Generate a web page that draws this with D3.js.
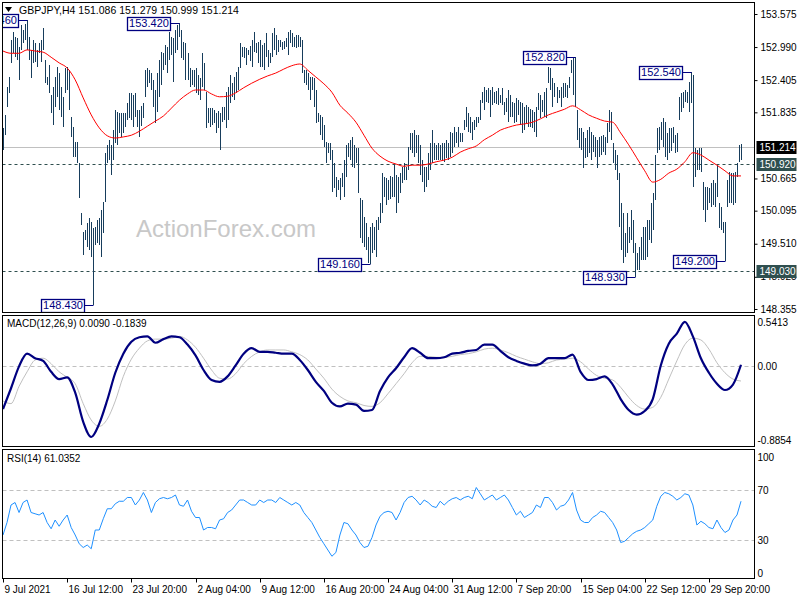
<!DOCTYPE html>
<html><head><meta charset="utf-8">
<script src="https://cdn.jsdelivr.net/npm/d3@7"></script>
<style>
body{margin:0;background:#fff}
svg{display:block}
text{font-family:"Liberation Sans",Arial,sans-serif;font-size:10px}
</style>
</head><body>
<svg id="c" width="800" height="600"></svg>
<script>
// ---- DATA ----
const symbolTitle = "GBPJPY,H4  151.086 151.279 150.999 151.214";
// H4 bars: [high, low]
const bars = [
[151.56,151.17],[151.79,151.43],[152.28,151.93],[152.46,152.18],[153.12,152.71],[153.26,152.88],[153.17,152.81],[153.15,152.76],[152.99,152.41],[153.38,152.94],
[153.29,153.06],[153.40,153.12],[153.46,152.94],[153.17,152.76],[152.94,152.44],[153.12,152.71],[153.06,152.73],[152.94,152.64],[153.06,152.88],[153.12,152.73],
[153.33,152.94],[152.76,152.35],[152.46,152.32],[152.67,152.18],[152.14,151.82],[152.28,151.61],[152.46,151.93],[152.64,152.11],[152.53,151.88],[152.28,151.75],
[152.11,151.57],[152.62,152.18],[152.64,152.23],[152.58,151.88],[151.75,151.40],[151.57,151.04],[151.31,151.04],[151.31,150.94],[150.94,150.32],[150.05,149.84],
[149.72,149.31],[149.75,149.58],[149.88,149.45],[149.96,149.40],[149.89,149.27],[149.79,148.43],[149.81,149.49],[149.93,149.52],[149.96,149.49],[150.11,149.27],
[150.25,149.70],[151.12,150.25],[151.26,150.94],[151.35,150.99],[151.26,150.73],[151.52,150.99],[151.88,151.29],[151.84,151.26],[151.82,151.47],[151.82,151.40],
[151.82,151.47],[151.82,151.57],[152.00,151.70],[152.18,151.73],[152.18,151.70],[152.14,151.57],[152.18,151.75],[151.88,151.57],[151.88,151.40],[151.95,151.60],
[152.00,151.73],[152.58,152.11],[152.62,152.28],[152.58,152.35],[152.53,152.23],[152.41,151.93],[152.23,151.65],[152.53,151.84],[152.76,152.11],[152.90,152.32],
[152.88,152.58],[153.03,152.67],[152.99,152.53],[153.26,152.76],[153.17,152.85],[153.15,152.37],[153.29,152.88],[153.38,152.94],[153.42,153.17],[153.29,152.80],
[153.08,152.76],[153.06,152.41],[152.88,152.41],[152.62,152.28],[152.58,152.32],[152.58,152.28],[152.62,152.18],[152.50,152.15],[152.44,152.05],[152.88,152.28],
[152.71,152.23],[152.19,151.56],[151.91,151.65],[151.91,151.57],[151.91,151.61],[151.88,151.65],[151.82,151.47],[151.85,151.55],[151.82,151.17],[151.93,151.66],
[151.93,151.70],[152.19,151.56],[152.28,151.70],[152.50,152.00],[152.35,152.11],[152.46,152.05],[152.55,152.18],[152.64,152.23],[153.06,152.62],[152.99,152.81],
[152.99,152.80],[152.97,152.67],[152.94,152.85],[153.00,152.75],[153.12,152.64],[153.26,152.90],[153.06,152.88],[153.08,152.71],[153.12,152.64],[153.03,152.64],
[153.06,152.58],[153.24,152.81],[152.94,152.64],[152.88,152.71],[153.24,152.81],[153.33,152.94],[153.20,152.85],[153.12,152.90],[153.12,152.99],[153.08,152.94],
[153.10,152.95],[153.15,152.99],[153.26,152.85],[153.29,153.06],[153.24,152.99],[153.17,152.99],[153.20,152.98],[153.20,152.99],[153.17,152.99],[153.12,152.53],
[152.58,152.35],[152.58,152.32],[152.53,152.23],[152.46,152.05],[152.46,152.23],[152.44,151.93],[152.23,151.65],[151.82,151.66],[151.79,151.43],[151.75,151.35],
[151.61,151.22],[151.31,150.94],[151.29,151.12],[151.29,150.99],[151.17,150.42],[150.94,150.50],[150.69,150.34],[150.64,150.46],[150.67,150.28],[150.76,150.51],
[150.99,150.34],[151.26,150.69],[151.29,151.04],[151.35,151.00],[151.40,150.87],[151.26,150.85],[151.20,150.94],[151.20,150.41],[150.32,149.61],[150.28,149.52],
[149.98,149.45],[149.88,149.40],[149.63,149.17],[149.81,149.16],[149.88,149.35],[149.81,149.40],[149.93,149.27],[149.98,149.75],[150.23,149.88],[150.76,150.05],
[150.69,150.34],[150.67,150.20],[150.64,150.28],[150.70,150.30],[150.69,150.34],[150.90,150.34],[150.73,150.05],[150.69,150.23],[150.76,150.41],[150.87,150.58],
[150.94,150.64],[150.87,150.64],[151.22,150.81],[151.47,151.17],[151.47,151.12],[151.52,151.04],[151.43,151.12],[151.43,150.94],[151.26,150.73],[150.99,150.60],
[150.87,150.42],[150.87,150.51],[151.12,150.64],[151.29,150.81],[151.52,150.94],[151.29,150.99],[151.26,150.99],[151.29,150.99],[151.26,150.99],[151.30,151.00],
[151.29,150.96],[151.35,151.03],[151.29,150.99],[151.49,151.04],[151.47,151.12],[151.57,151.22],[151.49,151.29],[151.57,151.22],[151.47,151.31],[151.47,151.31],
[151.70,151.52],[151.93,151.57],[151.82,151.49],[151.75,151.47],[151.66,151.35],[151.70,151.52],[151.75,151.57],[151.75,151.65],[152.05,151.70],[152.19,152.00],
[152.28,151.88],[152.23,152.02],[152.27,152.00],[152.23,151.75],[152.28,151.97],[152.19,152.00],[152.22,151.98],[152.27,151.97],[152.14,152.00],[152.27,151.97],
[152.02,151.79],[152.09,151.84],[152.23,151.66],[152.14,151.75],[152.02,151.75],[152.00,151.65],[152.09,151.66],[152.05,151.79],[152.02,151.61],[152.00,151.47],
[151.93,151.52],[151.97,151.65],[151.93,151.57],[151.90,151.58],[151.88,151.56],[151.84,151.49],[151.93,151.40],[152.18,151.88],[152.14,151.73],[152.05,151.84],
[152.19,151.75],[152.27,151.73],[152.64,152.35],[152.62,152.23],[152.44,151.93],[152.35,152.11],[152.28,152.00],[152.23,152.09],[152.28,151.93],[152.35,152.09],
[152.35,152.11],[152.32,152.09],[152.46,152.27],[152.76,152.53],[152.80,152.14],[152.82,151.93],[151.88,151.35],[151.56,151.20],[151.56,151.17],[151.49,150.85],
[151.38,151.03],[151.52,151.04],[151.57,151.12],[151.49,150.99],[151.43,151.13],[151.40,151.04],[151.35,150.85],[151.40,151.04],[151.42,151.08],[151.43,151.13],
[151.40,151.08],[151.65,151.29],[151.88,151.49],[151.84,151.35],[151.29,150.94],[151.17,150.81],[151.08,150.64],[150.76,149.81],[150.23,149.40],[150.05,149.17],
[149.70,149.27],[150.05,149.35],[149.81,149.52],[150.11,149.58],[149.93,149.35],[149.52,148.93],[149.35,149.04],[149.45,149.04],[149.63,149.22],[149.81,149.22],
[149.81,149.22],[149.93,149.27],[149.93,149.58],[150.23,149.52],[150.41,149.75],[151.08,150.28],[151.56,151.12],[151.57,151.17],[151.66,151.35],[151.73,151.22],
[151.66,151.04],[151.47,150.99],[151.56,151.12],[151.55,151.15],[151.57,151.29],[151.43,151.12],[151.47,151.13],[152.11,151.70],[152.18,151.84],[152.19,151.91],
[152.23,152.02],[152.19,152.00],[152.37,151.84],[152.54,152.00],[152.50,150.51],[151.20,150.69],[151.17,150.81],[151.20,150.81],[151.20,150.78],[150.60,150.11],
[150.51,149.89],[150.51,150.11],[150.50,150.23],[150.58,150.16],[150.64,150.20],[150.58,150.16],[150.90,150.34],[150.23,149.79],[150.16,149.75],[149.89,149.70],
[149.89,149.20],[150.64,150.16],[150.78,150.23],[150.76,150.23],[150.76,150.20],[150.78,150.23],[150.94,150.69],[151.26,150.96],[151.279,150.999]
];
// indicator samples: MA and MACD one every 4 bars, RSI one every 2 bars
const sampleStep = 4;
const rsiStep = 2;
const maValues = [
152.92,152.88,152.88,152.94,152.92,152.90,152.81,152.71,152.62,152.41,
152.09,151.79,151.56,151.42,151.38,151.40,151.43,151.50,151.59,151.68,
151.77,151.91,152.05,152.16,152.23,152.23,152.16,152.11,152.12,152.18,
152.27,152.35,152.42,152.48,152.53,152.60,152.66,152.69,152.58,152.46,
152.34,152.19,151.96,151.82,151.66,151.43,151.20,151.06,150.97,150.92,
150.88,150.90,150.90,150.92,150.96,150.99,151.04,151.13,151.19,151.24,
151.35,151.43,151.52,151.57,151.61,151.63,151.66,151.72,151.79,151.84,
151.89,151.95,151.88,151.79,151.73,151.68,151.66,151.47,151.26,151.03,
150.80,150.60,150.65,150.76,150.83,150.96,151.12,151.08,150.99,150.90,
150.80,150.71,150.71];
const macdMain = [
-0.518,-0.270,-0.010,0.141,0.087,0.055,-0.075,-0.161,-0.140,-0.323,
-0.669,-0.850,-0.691,-0.410,-0.086,0.141,0.282,0.336,0.347,0.271,
0.314,0.347,0.336,0.249,0.120,-0.053,-0.172,-0.194,-0.129,0.001,
0.141,0.206,0.163,0.163,0.152,0.141,0.141,0.066,-0.053,-0.194,
-0.302,-0.442,-0.486,-0.453,-0.464,-0.540,-0.529,-0.302,-0.140,-0.032,
0.098,0.206,0.152,0.087,0.087,0.098,0.141,0.152,0.174,0.185,
0.249,0.249,0.174,0.098,0.055,0.022,0.001,0.022,0.087,0.087,
0.087,0.130,-0.075,-0.172,-0.161,-0.129,-0.226,-0.399,-0.529,-0.583,
-0.540,-0.399,0.001,0.260,0.379,0.520,0.347,0.087,-0.086,-0.216,
-0.291,-0.226,0.009];
const macdSignal = [
-0.421,-0.453,-0.248,-0.075,0.066,0.087,0.022,-0.075,-0.140,-0.216,
-0.453,-0.648,-0.723,-0.637,-0.421,-0.129,0.076,0.206,0.293,0.314,
0.314,0.325,0.347,0.304,0.217,0.087,-0.053,-0.151,-0.161,-0.097,
0.022,0.109,0.163,0.185,0.185,0.185,0.163,0.130,0.066,-0.042,
-0.151,-0.280,-0.367,-0.421,-0.442,-0.475,-0.486,-0.442,-0.334,-0.216,
-0.097,0.033,0.109,0.109,0.098,0.098,0.109,0.130,0.141,0.163,
0.195,0.206,0.185,0.152,0.109,0.076,0.044,0.022,0.033,0.066,
0.076,0.087,0.044,-0.042,-0.118,-0.151,-0.172,-0.259,-0.378,-0.475,
-0.518,-0.496,-0.378,-0.161,0.055,0.249,0.325,0.304,0.195,0.033,
-0.086,-0.161,-0.184];
const rsiValues = [
34,44,58,60,52,60,62,52,51,50,
52,44,39,46,41,46,50,40,34,27,
24,26,23,38,38,47,55,55,59,61,
61,64,64,58,62,68,62,52,60,63,
64,63,64,66,58,57,62,53,48,48,
38,40,40,39,46,47,52,54,58,62,
62,60,58,58,62,60,62,62,60,64,
62,60,58,60,58,52,48,44,38,32,
27,22,17,20,34,44,43,38,34,28,
24,25,32,42,49,52,53,52,46,52,
60,64,65,62,58,62,60,57,56,61,
58,61,63,64,62,64,65,63,72,67,
62,64,66,62,64,66,62,56,50,53,
48,50,52,58,56,64,64,60,54,57,
58,62,68,54,46,44,44,48,50,53,
52,48,44,38,28,29,32,35,37,38,
40,43,46,57,65,68,67,65,62,64,
67,66,58,42,45,43,40,39,46,40,
36,38,46,50,61.0352];
const priceTicks = [153.575,152.990,152.405,151.835,150.665,150.095,149.510,148.925,148.355];
const lastClose = 151.214;
const levelLines = [150.920,149.030];
const peakHighs = [153.460,153.420,152.820,152.540];
const peakLows = [148.430,149.160,148.930,149.200];
const dateTickStep = 32;
const dateLabels = ["9 Jul 2021","16 Jul 12:00","23 Jul 20:00","2 Aug 04:00","9 Aug 12:00","16 Aug 20:00","24 Aug 04:00","31 Aug 12:00","7 Sep 20:00","15 Sep 04:00","22 Sep 12:00","29 Sep 20:00"];
const macdTitle = "MACD(12,26,9) 0.0090 -0.1839";
const macdAxis = [0.5413, 0, -0.8854];
const rsiTitle = "RSI(14) 61.0352";
const rsiLevels = [70,30];
const rsiAxis = [100,70,30,0];

// ---- LAYOUT ----
const L = 2.5, R = 754.5;
const P1 = {top:2.5, bottom:312.5};
const P2 = {top:315.5, bottom:446.5};
const P3 = {top:449.5, bottom:578.5};
const barColor = "#173d5c";
const FONT = "'Liberation Sans',Arial,sans-serif";

const svg = d3.select("#c");
const n = bars.length;
const x = d3.scaleLinear().domain([0, n-1]).range([3, 741]);
const px = i => Math.round(x(i)) + 0.5;
const yP = d3.scaleLinear().domain([148.355,153.575]).range([309,14]);
const yM = d3.scaleLinear().domain([-0.8854,0.5413]).range([440,320]);
const yR = d3.scaleLinear().domain([0,100]).range([577.5,452.5]);

const defs = svg.append("defs");
[["c1",P1],["c2",P2],["c3",P3]].forEach(([id,p])=>{
  defs.append("clipPath").attr("id",id).append("rect")
    .attr("x",L+0.5).attr("y",p.top+0.5).attr("width",R-L-1).attr("height",p.bottom-p.top-1);
});

// ---------- main price panel ----------
const g1 = svg.append("g").attr("clip-path","url(#c1)");
g1.append("text").attr("x",136).attr("y",237).attr("fill","#c8c8c8")
  .style("font-size","24px").text("ActionForex.com");

g1.append("line").attr("x1",L).attr("x2",R)
  .attr("y1",Math.round(yP(lastClose))+0.5).attr("y2",Math.round(yP(lastClose))+0.5)
  .attr("stroke","#c0c0c0").attr("stroke-width",1);
g1.selectAll("line.lvl").data(levelLines).join("line").attr("class","lvl")
  .attr("x1",L).attr("x2",R)
  .attr("y1",d=>Math.round(yP(d))+0.5).attr("y2",d=>Math.round(yP(d))+0.5)
  .attr("stroke","#2f4f4f").attr("stroke-dasharray","3,3");

g1.selectAll("line.bar").data(bars).join("line").attr("class","bar")
  .attr("x1",(d,i)=>px(i)).attr("x2",(d,i)=>px(i))
  .attr("y1",d=>Math.round(yP(d[0])))
  .attr("y2",d=>Math.max(Math.round(yP(d[1])),Math.round(yP(d[0]))+2))
  .attr("stroke",barColor).attr("stroke-width",1).attr("shape-rendering","crispEdges");

const maLine = d3.line().x((d,i)=>x(i*sampleStep)).y(d=>yP(d)).curve(d3.curveMonotoneX);
g1.append("path").attr("d",maLine(maValues)).attr("fill","none").attr("stroke","#ff0000").attr("stroke-width",1);

function findBar(v, k){ return bars.findIndex(b=>Math.abs(b[k]-v)<1e-6); }
const peaks = peakHighs.map(v=>({v,i:findBar(v,0)})).concat(peakLows.map(v=>({v,i:findBar(v,1)})));
const pg = g1.selectAll("g.peak").data(peaks).join("g").attr("class","peak");
const boxW = 43, boxH = 13;
pg.append("line")
  .attr("x1",d=>px(d.i)-9).attr("x2",d=>px(d.i))
  .attr("y1",d=>Math.round(yP(d.v))+0.5).attr("y2",d=>Math.round(yP(d.v))+0.5)
  .attr("stroke","#000080");
pg.append("rect")
  .attr("x",d=>px(d.i)-9-boxW).attr("y",d=>Math.round(yP(d.v))-6+0.5)
  .attr("width",boxW).attr("height",boxH)
  .attr("fill","#fff").attr("stroke","#000080").attr("stroke-width",1.3);
pg.append("text")
  .attr("x",d=>px(d.i)-9-boxW/2).attr("y",d=>Math.round(yP(d.v))+1)
  .attr("text-anchor","middle").attr("dominant-baseline","middle")
  .attr("fill","#000080").style("font-size","11px").text(d=>d.v.toFixed(3));

// header
svg.append("path").attr("d","M5,7 L12,7 L8.5,12 Z").attr("fill","#000");
svg.append("text").attr("x",19).attr("y",14).attr("fill","#000").style("font-size","10.5px").text(symbolTitle);

// right price axis
const ax1 = svg.append("g").attr("transform",`translate(${R},0)`)
  .call(d3.axisRight(yP).tickValues(priceTicks).tickSize(3).tickPadding(3).tickFormat(d3.format(".3f")));
ax1.select(".domain").remove();
ax1.selectAll("text").attr("fill","#000").style("font-size","10px").style("font-family",FONT);
ax1.selectAll("line").attr("stroke","#000");

const tags = [{v:lastClose,bg:"#000"}].concat(levelLines.map(v=>({v,bg:"#2f4f4f"})));
const tg = svg.selectAll("g.tag").data(tags).join("g").attr("class","tag");
tg.append("rect").attr("x",R+2).attr("y",d=>Math.round(yP(d.v))-6)
  .attr("width",40).attr("height",13).attr("fill",d=>d.bg);
tg.append("text").attr("x",R+5).attr("y",d=>Math.round(yP(d.v))+1)
  .attr("dominant-baseline","middle").attr("fill","#fff").text(d=>d.v.toFixed(3));

// ---------- MACD panel ----------
const g2 = svg.append("g").attr("clip-path","url(#c2)");
g2.append("line").attr("x1",L).attr("x2",R)
  .attr("y1",Math.round(yM(0))+0.5).attr("y2",Math.round(yM(0))+0.5)
  .attr("stroke","#c0c0c0").attr("stroke-dasharray","4,3");
const mLine = d3.line().x((d,i)=>x(i*sampleStep)).y(d=>yM(d)).curve(d3.curveMonotoneX);
g2.append("path").attr("d",mLine(macdSignal)).attr("fill","none").attr("stroke","#c0c0c0").attr("stroke-width",1);
g2.append("path").attr("d",mLine(macdMain)).attr("fill","none").attr("stroke","#000080").attr("stroke-width",2.2);
svg.append("text").attr("x",7).attr("y",327).attr("fill","#000").text(macdTitle);
svg.selectAll("text.macdax").data(macdAxis).join("text").attr("class","macdax")
  .attr("x",R+3).attr("y",d=>Math.min(Math.max(yM(d),322),441)+4)
  .attr("fill","#000").text(d=>d===0?"0.00":d.toFixed(4));

// ---------- RSI panel ----------
const g3 = svg.append("g").attr("clip-path","url(#c3)");
g3.selectAll("line.rl").data(rsiLevels).join("line").attr("class","rl")
  .attr("x1",L).attr("x2",R)
  .attr("y1",d=>Math.round(yR(d))+0.5).attr("y2",d=>Math.round(yR(d))+0.5)
  .attr("stroke","#c0c0c0").attr("stroke-dasharray","4,3");
const rLine = d3.line().x((d,i)=>x(i*rsiStep)).y(d=>yR(d));
g3.append("path").attr("d",rLine(rsiValues)).attr("fill","none").attr("stroke","#1e90ff").attr("stroke-width",1);
svg.append("text").attr("x",7).attr("y",462).attr("fill","#000").text(rsiTitle);
svg.selectAll("text.rsiax").data(rsiAxis).join("text").attr("class","rsiax")
  .attr("x",R+3).attr("y",d=>Math.min(Math.max(yR(d),457),573)+4)
  .attr("fill","#000").text(d=>d);

// ---------- panel borders ----------
[P1,P2,P3].forEach(p=>{
  svg.append("rect").attr("x",L).attr("y",p.top).attr("width",R-L).attr("height",p.bottom-p.top)
    .attr("fill","none").attr("stroke","#000").attr("stroke-width",1);
});

// ---------- time axis ----------
const tickIdx = dateLabels.map((d,i)=>i*dateTickStep);
const ax3 = svg.append("g").attr("transform",`translate(0,${P3.bottom})`)
  .call(d3.axisBottom(x).tickValues(tickIdx).tickSize(4).tickPadding(3).tickFormat((d,i)=>dateLabels[i]));
ax3.select(".domain").remove();
ax3.selectAll(".tick").attr("transform",d=>`translate(${Math.round(x(d))+0.5},0)`);
ax3.selectAll("line").attr("stroke","#000");
ax3.selectAll("text").attr("text-anchor","start").attr("x",1).attr("fill","#000")
  .style("font-size","10px").style("font-family",FONT);
</script>
</body></html>
